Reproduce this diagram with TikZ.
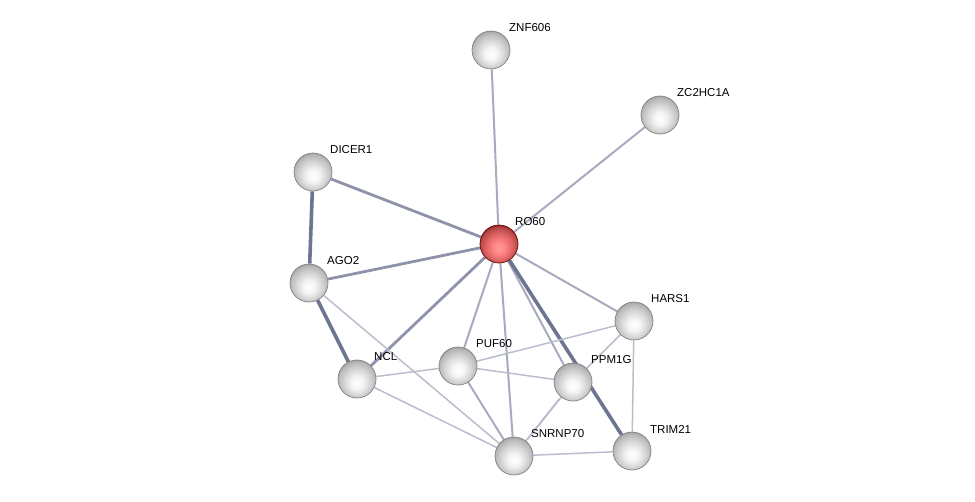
\documentclass[tikz,border=0pt]{standalone}
\usepackage{fontspec}
\setmainfont{Liberation Sans}
\usetikzlibrary{backgrounds}
\definecolor{edgedark}{HTML}{6E7591}
\definecolor{edgemid}{HTML}{8E93AA}
\definecolor{edgelight}{HTML}{A7ABBF}
\definecolor{edgefaint}{HTML}{BABDCD}
\pgfdeclareradialshading{greyball}{\pgfpoint{0bp}{-6bp}}{%
  color(0bp)=(white); color(8bp)=(white!96!black); color(17bp)=(white!84!black);
  color(25bp)=(white!72!black); color(31bp)=(white!55!black); color(50bp)=(white!55!black)}
\pgfdeclareradialshading{redball}{\pgfpoint{0bp}{-6bp}}{%
  color(0bp)=(red!40!white); color(8bp)=(red!48!white); color(17bp)=(red!55!white!88!black);
  color(25bp)=(red!60!white!70!black); color(31bp)=(red!50!black); color(50bp)=(red!50!black)}
\tikzset{
  prot/.style={circle, minimum size=38pt, inner sep=0pt, shading=greyball, draw=black!50, line width=0.7pt},
  hub/.style={prot, shading=redball, draw=red!40!black},
  lbl/.style={anchor=west, inner sep=0pt, font=\fontsize{11.5pt}{13pt}\selectfont},
  edark/.style={draw=edgedark, line width=3.6pt},
  emid/.style={draw=edgemid, line width=2.8pt},
  elight/.style={draw=edgelight, line width=2pt},
  efaint/.style={draw=edgefaint, line width=1.5pt},
}
\begin{document}
\begin{tikzpicture}[x=1pt,y=-1pt]
\useasboundingbox (0,0) rectangle (975,501);
\node[prot] (znf) at (491,50) {};
\node[prot] (zc2) at (660,115) {};
\node[prot] (dic) at (313,172) {};
\node[hub]  (ro)  at (499,244) {};
\node[prot] (ago) at (309,283) {};
\node[prot] (har) at (634,321) {};
\node[prot] (ncl) at (357,379) {};
\node[prot] (puf) at (458,366) {};
\node[prot] (ppm) at (573,382) {};
\node[prot] (tri) at (632,451) {};
\node[prot] (snr) at (514,456) {};
\node[lbl] (lznf) at (509,28) {ZNF606};
\node[lbl] (lzc2) at (677,93) {ZC2HC1A};
\node[lbl] (ldic) at (330,150) {DICER1};
\node[lbl] (lro)  at (515,222) {RO60};
\node[lbl] (lago) at (327,261) {AGO2};
\node[lbl] (lhar) at (651,299) {HARS1};
\node[lbl] (lncl) at (374,357) {NCL};
\node[lbl] (lpuf) at (476,344) {PUF60};
\node[lbl] (lppm) at (591,360) {PPM1G};
\node[lbl] (ltri) at (650,429) {TRIM21};
\node[lbl] (lsnr) at (531,434) {SNRNP70};
\begin{scope}[on background layer]
\draw[elight] (ro) -- (znf);
\draw[elight] (ro) -- (zc2);
\draw[emid] (ro) -- (dic);
\draw[emid] (ro) -- (ago);
\draw[emid] (ro) -- (ncl);
\draw[elight] (ro) -- (puf);
\draw[elight] (ro) -- (snr);
\draw[elight] (ro) -- (ppm);
\draw[elight] (ro) -- (har);
\draw[edark] (ro) -- (tri);
\draw[edark] (dic) -- (ago);
\draw[edark] (ago) -- (ncl);
\draw[efaint] (ago) -- (snr);
\draw[efaint] (ncl) -- (puf);
\draw[efaint] (ncl) -- (snr);
\draw[efaint] (puf) -- (har);
\draw[efaint] (puf) -- (ppm);
\draw[elight] (puf) -- (snr);
\draw[efaint] (ppm) -- (har);
\draw[efaint] (har) -- (tri);
\draw[efaint] (tri) -- (snr);
\draw[efaint, transform canvas={xshift=-1.5pt,yshift=-1.5pt}] (ppm) -- (snr);
\draw[efaint, transform canvas={xshift=1.5pt,yshift=1.5pt}] (ppm) -- (snr);
\end{scope}
\end{tikzpicture}
\end{document}
